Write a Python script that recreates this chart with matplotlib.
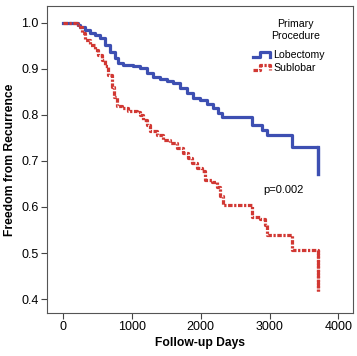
import matplotlib
matplotlib.use("Agg")
import matplotlib.pyplot as plt
from matplotlib.lines import Line2D
from matplotlib.legend_handler import HandlerLine2D

plt.rcParams['font.family'] = ['Liberation Sans', 'DejaVu Sans']

lob_days = [0, 226, 251, 323, 396, 469, 541, 614, 686, 759, 807, 880, 1024, 1121, 1218,
            1315, 1412, 1509, 1605, 1702, 1799, 1895, 1992, 2089, 2185, 2258, 2306,
            2742, 2887, 2959, 3322, 3700]
lob_surv = [1.0, 0.995, 0.991, 0.983, 0.978, 0.973, 0.966, 0.952, 0.937, 0.923, 0.912,
            0.908, 0.906, 0.901, 0.890, 0.883, 0.878, 0.874, 0.869, 0.858, 0.847, 0.837,
            0.832, 0.823, 0.814, 0.803, 0.796, 0.778, 0.766, 0.756, 0.731, 0.672]

sub_days = [0, 203, 226, 276, 323, 396, 469, 517, 566, 614, 662, 710, 744, 783, 856, 952,
            1073, 1121, 1169, 1218, 1266, 1363, 1460, 1557, 1654, 1750, 1823, 1871, 1944,
            2017, 2064, 2161, 2234, 2282, 2330, 2742, 2862, 2935, 2959, 3322, 3700]
sub_surv = [1.0, 0.997, 0.991, 0.977, 0.962, 0.952, 0.941, 0.930, 0.919, 0.905, 0.887,
            0.861, 0.839, 0.819, 0.814, 0.809, 0.806, 0.800, 0.789, 0.778, 0.764, 0.756,
            0.746, 0.738, 0.728, 0.717, 0.706, 0.695, 0.684, 0.677, 0.659, 0.655, 0.643,
            0.623, 0.604, 0.579, 0.574, 0.561, 0.540, 0.506, 0.418]

blue = '#3d4fb2'
red = '#d13833'
LW = 2.3
RED_DASH = (1.4, 0.5, 0.7, 0.5)


class StepHandler(HandlerLine2D):
    def create_artists(self, legend, orig_handle, xdescent, ydescent, width, height,
                       fontsize, trans):
        x0 = -xdescent
        y0 = -ydescent
        xm = x0 + 0.4 * width
        lo = y0 + 0.2 * height
        hi = y0 + 0.8 * height
        line = Line2D([x0, xm, xm, x0 + width, x0 + width], [lo, lo, hi, hi, lo])
        self.update_prop(line, orig_handle, legend)
        line.set_transform(trans)
        return [line]


fig = plt.figure(figsize=(3.57, 3.56), dpi=100)
ax = fig.add_axes([0.132, 0.121, 0.857, 0.862])

ax.step(lob_days, lob_surv, where='post', color=blue, lw=LW)
ax.plot([lob_days[-1], lob_days[-1]], [lob_surv[-2], lob_surv[-1]], color=blue, lw=LW)
ax.step(sub_days, sub_surv, where='post', color=red, lw=LW, dashes=RED_DASH)
ax.plot([sub_days[-1], sub_days[-1]], [sub_surv[-2], sub_surv[-1]], color=red, lw=LW,
        dashes=RED_DASH)

ax.set_xlim(-228, 4213)
ax.set_ylim(0.370, 1.036)
ax.set_xticks([0, 1000, 2000, 3000, 4000])
ax.set_yticks([0.4, 0.5, 0.6, 0.7, 0.8, 0.9, 1.0])
ax.set_yticklabels(['0.4', '0.5', '0.6', '0.7', '0.8', '0.9', '1.0'])
ax.tick_params(labelsize=9, length=4, width=0.8, color='#444444', pad=2)
for s in ax.spines.values():
    s.set_color('#555555')
    s.set_linewidth(0.8)

ax.set_xlabel('Follow-up Days', fontsize=8.7, fontweight='bold', labelpad=3)
ax.set_ylabel('Freedom from Recurrence', fontsize=8.7, fontweight='bold', labelpad=4)

ax.text(2907, 0.637, 'p=0.002', fontsize=8, va='center', ha='left')

# legend title (centred over the label column)
ax.text(0.813, 0.922, 'Primary\nProcedure', transform=ax.transAxes, fontsize=7.6,
        ha='center', va='center', linespacing=1.27, multialignment='center')

handles = [Line2D([], [], color=blue, lw=LW),
           Line2D([], [], color=red, lw=LW, dashes=RED_DASH)]
leg = ax.legend(handles, ['Lobectomy', 'Sublobar'],
                loc='upper left', bbox_to_anchor=(0.673, 0.857), frameon=False,
                fontsize=7.6, handlelength=1.6, handleheight=0.9,
                handletextpad=0.35, labelspacing=0.32, borderpad=0.0,
                borderaxespad=0.0, handler_map={Line2D: StepHandler()})

fig.savefig('out.png', dpi=100)
